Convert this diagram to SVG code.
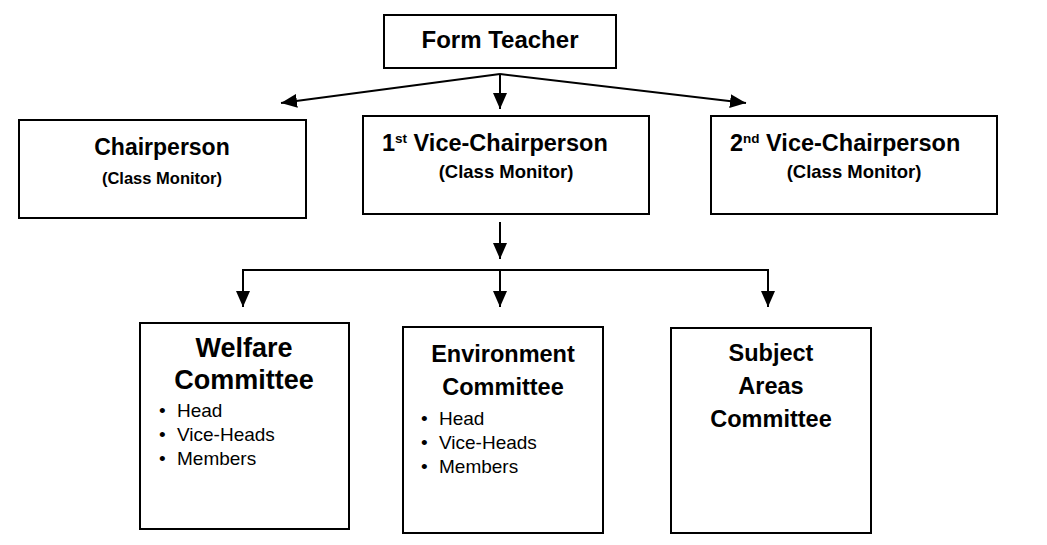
<svg xmlns="http://www.w3.org/2000/svg" width="1047" height="545" viewBox="0 0 1047 545">
<style>
.box{fill:#fff;stroke:#000;stroke-width:2}
.t{font-family:"Liberation Sans",Arial,sans-serif;fill:#000}
.b{font-weight:bold}
.c{text-anchor:middle}
.ln{stroke:#000;stroke-width:2;fill:none}
</style>
<defs>
<marker id="ah" viewBox="0 0 16 14" refX="16" refY="7" markerUnits="userSpaceOnUse" markerWidth="16" markerHeight="14" orient="auto">
<path d="M0,0 L16,7 L0,14 z" fill="#000"/>
</marker>
</defs>
<rect width="1047" height="545" fill="#fff"/>
<g id="connectors">
<line class="ln" x1="500" y1="74" x2="281" y2="103" marker-end="url(#ah)"/>
<line class="ln" x1="500" y1="74" x2="500" y2="109" marker-end="url(#ah)"/>
<line class="ln" x1="500" y1="74" x2="746" y2="103" marker-end="url(#ah)"/>
<line class="ln" x1="500" y1="222" x2="500" y2="259" marker-end="url(#ah)"/>
<polyline class="ln" points="243,306 243,270 768,270 768,307" marker-end="url(#ah)"/>
<line class="ln" x1="243" y1="271" x2="243" y2="307" marker-end="url(#ah)"/>
<line class="ln" x1="500" y1="270" x2="500" y2="307" marker-end="url(#ah)"/>
</g>
<g id="form-teacher">
<rect class="box" x="384" y="15" width="232" height="53"/>
<text class="t b c" x="500" y="48" font-size="24">Form Teacher</text>
</g>
<g id="chairperson">
<rect class="box" x="19" y="120" width="287" height="98"/>
<text class="t b c" x="162" y="155" font-size="23">Chairperson</text>
<text class="t b c" x="162" y="184" font-size="16.5">(Class Monitor)</text>
</g>
<g id="vice1">
<rect class="box" x="363" y="116" width="286" height="98"/>
<text class="t b" x="382" y="151" font-size="23.5">1<tspan font-size="13.5" dy="-8">st</tspan><tspan dy="8"> Vice-Chairperson</tspan></text>
<text class="t b c" x="506" y="178" font-size="18.5">(Class Monitor)</text>
</g>
<g id="vice2">
<rect class="box" x="711" y="116" width="286" height="98"/>
<text class="t b" x="730" y="151" font-size="23.5">2<tspan font-size="13.5" dy="-8">nd</tspan><tspan dy="8"> Vice-Chairperson</tspan></text>
<text class="t b c" x="854" y="178" font-size="18.5">(Class Monitor)</text>
</g>
<g id="welfare">
<rect class="box" x="140" y="323" width="209" height="206"/>
<text class="t b c" x="244" y="357" font-size="27">Welfare</text>
<text class="t b c" x="244" y="389" font-size="27">Committee</text>
<text class="t" x="159" y="417" font-size="19">•</text>
<text class="t" x="177" y="417" font-size="19">Head</text>
<text class="t" x="159" y="441" font-size="19">•</text>
<text class="t" x="177" y="441" font-size="19">Vice-Heads</text>
<text class="t" x="159" y="465" font-size="19">•</text>
<text class="t" x="177" y="465" font-size="19">Members</text>
</g>
<g id="environment">
<rect class="box" x="403" y="327" width="200" height="206"/>
<text class="t b c" x="503" y="362" font-size="23.5">Environment</text>
<text class="t b c" x="503" y="395" font-size="23.5">Committee</text>
<text class="t" x="421" y="425" font-size="19">•</text>
<text class="t" x="439" y="425" font-size="19">Head</text>
<text class="t" x="421" y="449" font-size="19">•</text>
<text class="t" x="439" y="449" font-size="19">Vice-Heads</text>
<text class="t" x="421" y="473" font-size="19">•</text>
<text class="t" x="439" y="473" font-size="19">Members</text>
</g>
<g id="subject-areas">
<rect class="box" x="671" y="328" width="200" height="205"/>
<text class="t b c" x="771" y="361" font-size="23.5">Subject</text>
<text class="t b c" x="771" y="394" font-size="23.5">Areas</text>
<text class="t b c" x="771" y="427" font-size="23.5">Committee</text>
</g>
</svg>
